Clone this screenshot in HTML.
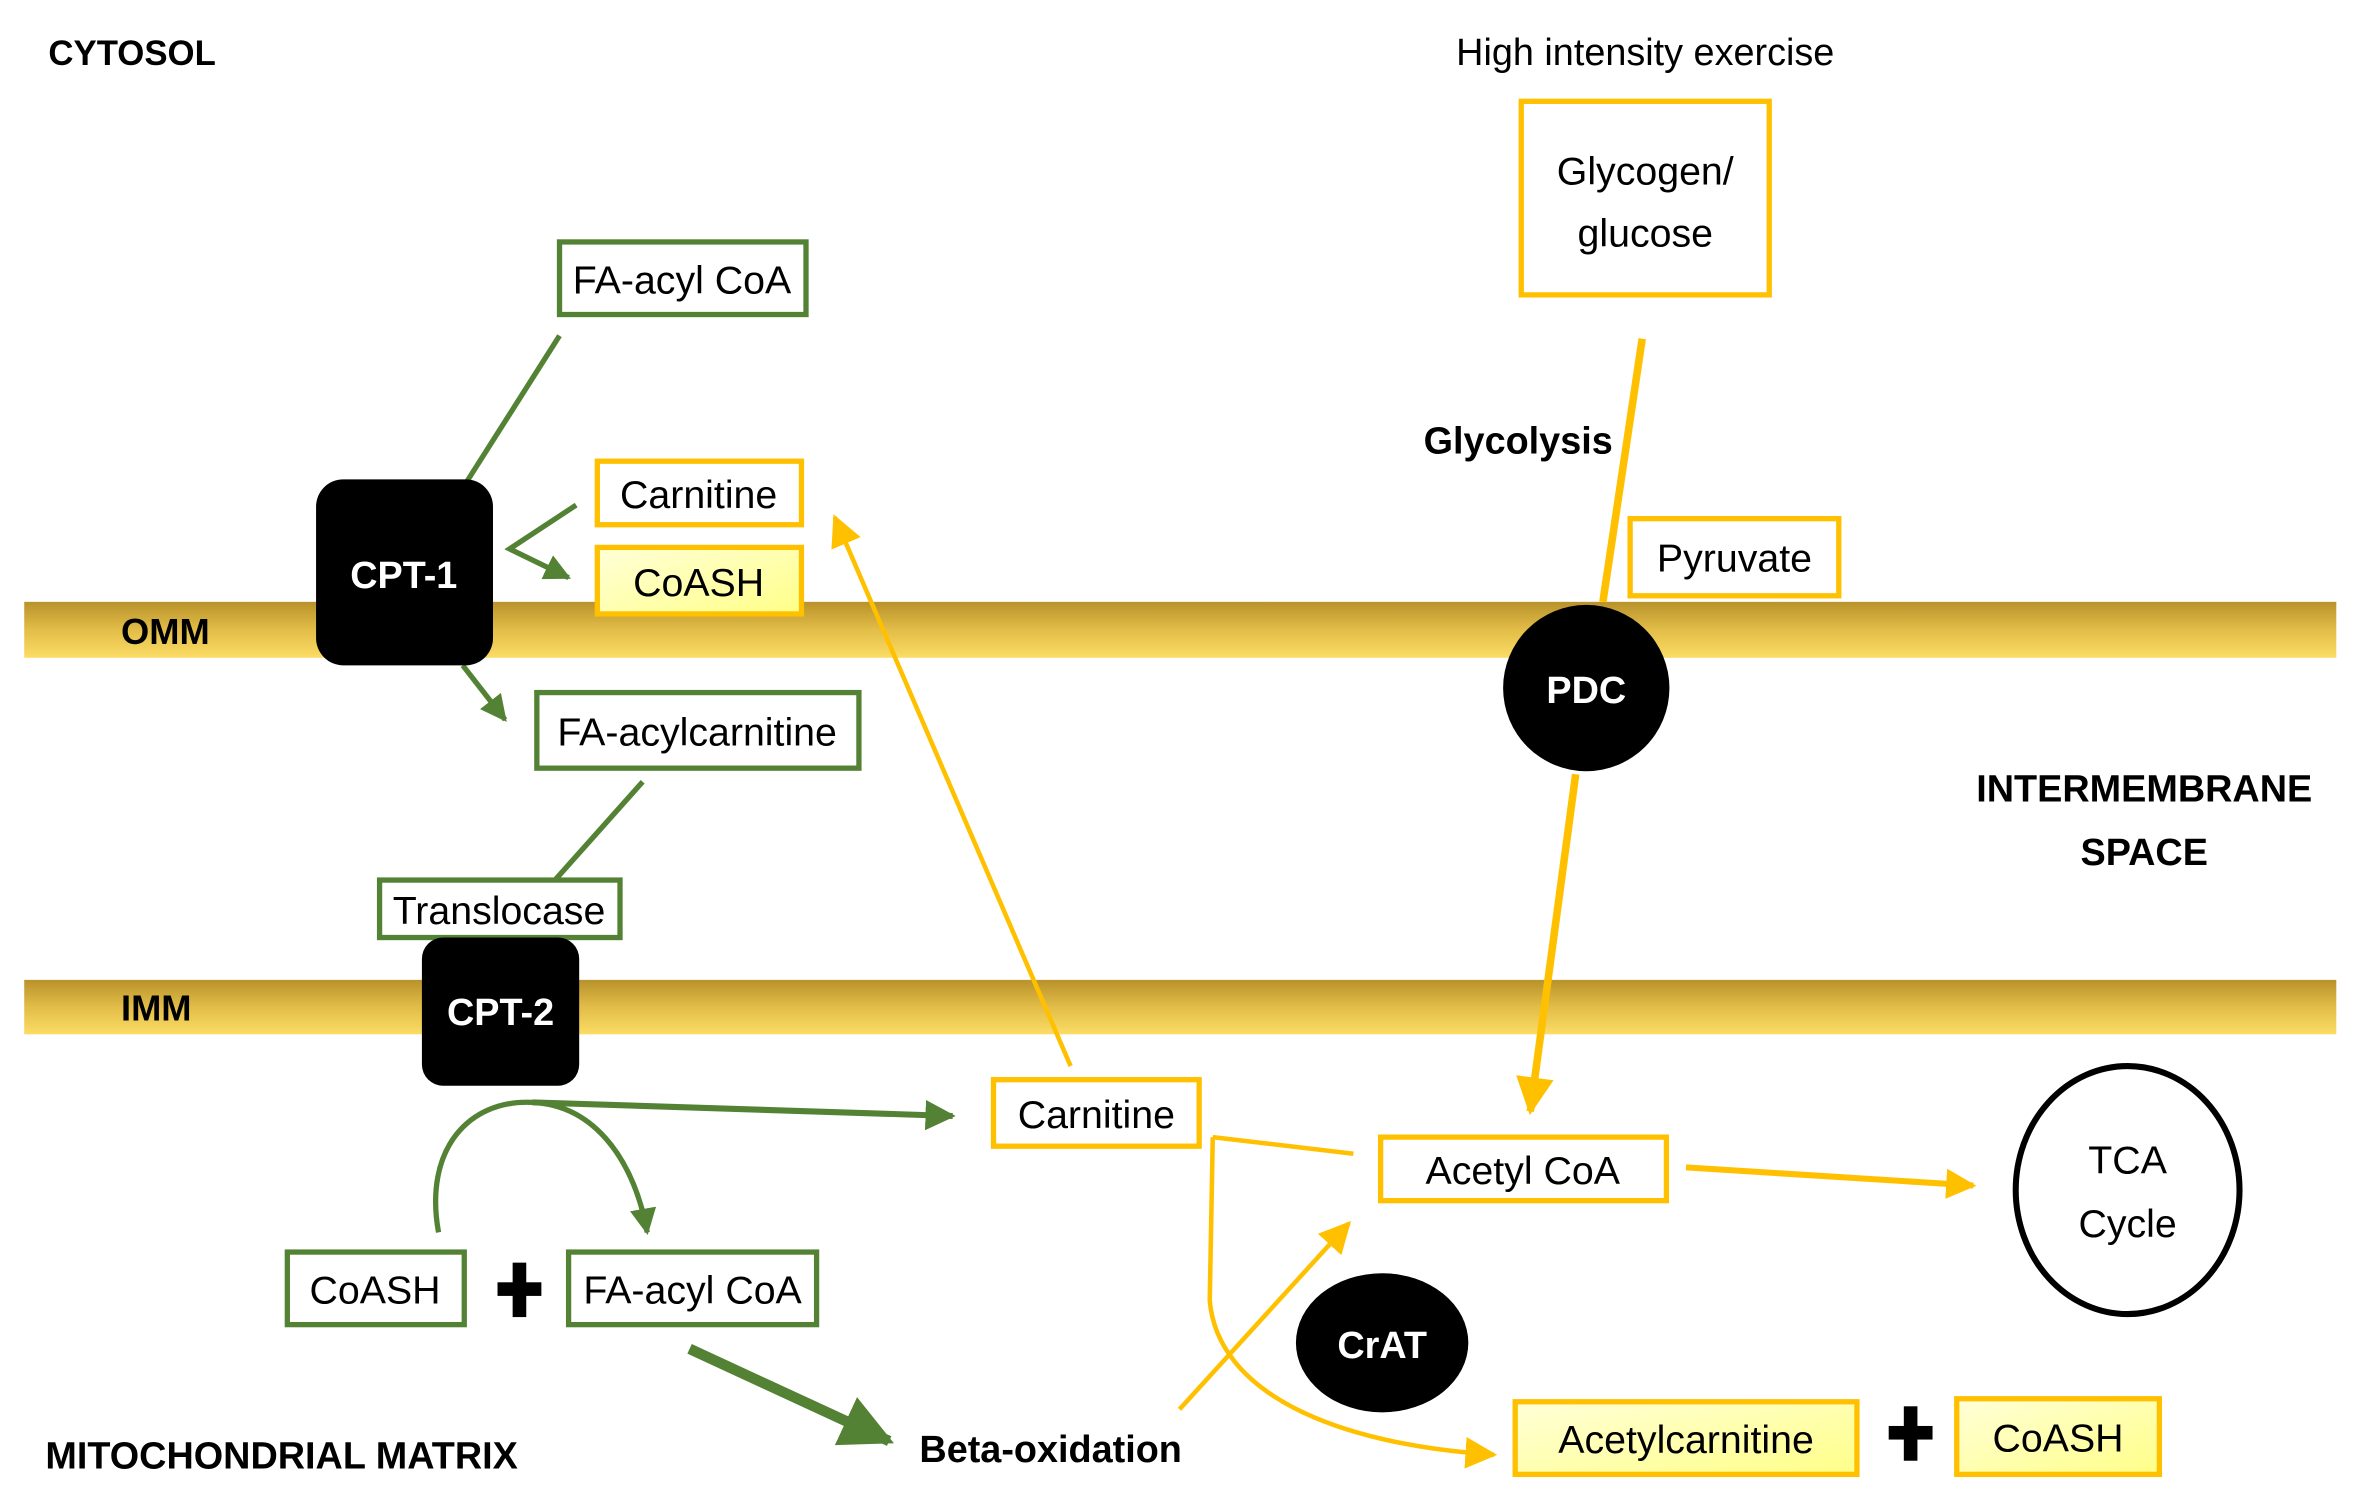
<!DOCTYPE html>
<html><head><meta charset="utf-8"><style>
html,body{margin:0;padding:0;background:#fff;}
svg{display:block;}
text{font-family:"Liberation Sans Narrow","Liberation Sans",sans-serif;}
</style></head><body>
<svg width="2359" height="1494" viewBox="0 0 1560 988" xmlns="http://www.w3.org/2000/svg">
<defs>
<linearGradient id="mem" x1="0" y1="0" x2="0" y2="1">
<stop offset="0" stop-color="#b8922a"/><stop offset="0.5" stop-color="#e2bd48"/><stop offset="1" stop-color="#fbdc64"/>
</linearGradient>
<linearGradient id="yel" x1="0" y1="0" x2="1" y2="1">
<stop offset="0" stop-color="#ffffd8"/><stop offset="1" stop-color="#ffff88"/>
</linearGradient>
<marker id="ag" viewBox="0 0 10 10" refX="9" refY="5" markerWidth="5" markerHeight="5" orient="auto" markerUnits="strokeWidth"><path d="M0,0 L10,5 L0,10 z" fill="#548235"/></marker>
<marker id="ao" viewBox="0 0 10 10" refX="9" refY="5" markerWidth="5" markerHeight="5" orient="auto" markerUnits="strokeWidth"><path d="M0,0 L10,5 L0,10 z" fill="#ffc000"/></marker>
<marker id="ao2" viewBox="0 0 10 10" refX="9" refY="5" markerWidth="7" markerHeight="7" orient="auto" markerUnits="strokeWidth"><path d="M0,0 L10,5 L0,10 z" fill="#ffc000"/></marker>
<marker id="ag2" viewBox="0 0 10 10" refX="9" refY="5" markerWidth="8" markerHeight="8" orient="auto" markerUnits="strokeWidth"><path d="M0,0 L10,5 L0,10 z" fill="#548235"/></marker>
</defs>

<!-- membranes -->
<rect x="16" y="398" width="1529" height="37" fill="url(#mem)"/>
<rect x="16" y="648" width="1529" height="36" fill="url(#mem)"/>
<text x="80" y="426" font-size="24" font-weight="bold">OMM</text>
<text x="80" y="675" font-size="24" font-weight="bold">IMM</text>

<text x="32" y="43" font-size="23" font-weight="bold">CYTOSOL</text>
<text x="1088" y="43" font-size="25" text-anchor="middle">High intensity exercise</text>
<text x="1418" y="530" font-size="25" font-weight="bold" text-anchor="middle">INTERMEMBRANE</text>
<text x="1418" y="572" font-size="25" font-weight="bold" text-anchor="middle">SPACE</text>
<text x="30" y="971" font-size="25" font-weight="bold">MITOCHONDRIAL MATRIX</text>
<text x="1004" y="300" font-size="25" font-weight="bold" text-anchor="middle">Glycolysis</text>
<text x="608" y="967" font-size="25" font-weight="bold">Beta-oxidation</text>

<!-- green lines -->
<g stroke="#548235" fill="none" stroke-width="3.5">
<line x1="370" y1="222" x2="309" y2="318"/>
<polyline points="381,334 337,363 376,382" marker-end="url(#ag)"/>
<line x1="306" y1="440" x2="334" y2="476" marker-end="url(#ag)"/>
<line x1="425" y1="517" x2="367" y2="582"/>
<path d="M290,815 C280,760 310,727 352,729 C395,731 420,770 428,815" marker-end="url(#ag)"/>
<line x1="352" y1="729" x2="630" y2="738" stroke-width="4" marker-end="url(#ag)"/>
<line x1="456" y1="892" x2="588" y2="953" stroke-width="7" marker-end="url(#ag)"/>
</g>

<!-- orange lines -->
<g stroke="#ffc000" fill="none" stroke-width="3">
<line x1="708" y1="705" x2="552" y2="342" marker-end="url(#ao2)"/>
<line x1="1086" y1="224" x2="1060" y2="398" stroke-width="5"/>
<line x1="1042" y1="512" x2="1012" y2="735" stroke-width="5" marker-end="url(#ao)"/>
<polyline points="895,763 802,752"/>
<path d="M802,752 L800,860 C805,920 880,955 988,962" marker-end="url(#ao2)"/>
<line x1="780" y1="932" x2="892" y2="809" marker-end="url(#ao2)"/>
<line x1="1115" y1="772" x2="1305" y2="784" stroke-width="4" marker-end="url(#ao)"/>
</g>

<!-- boxes -->
<g stroke-width="3.5" fill="#fff">
<rect x="370" y="160" width="163" height="48" stroke="#548235"/>
<rect x="395" y="305" width="135" height="42" stroke="#ffc000"/>
<rect x="395" y="362" width="135" height="44" stroke="#ffc000" fill="url(#yel)"/>
<rect x="355" y="458" width="213" height="50" stroke="#548235"/>
<rect x="251" y="582" width="159" height="38" stroke="#548235"/>
<rect x="1006" y="67" width="164" height="128" stroke="#ffc000"/>
<rect x="1078" y="343" width="138" height="51" stroke="#ffc000"/>
<rect x="657" y="714" width="136" height="44" stroke="#ffc000"/>
<rect x="913" y="752" width="189" height="42" stroke="#ffc000"/>
<rect x="190" y="828" width="117" height="48" stroke="#548235"/>
<rect x="376" y="828" width="164" height="48" stroke="#548235"/>
<rect x="1002" y="927" width="226" height="48" stroke="#ffc000" fill="url(#yel)"/>
<rect x="1294" y="925" width="134" height="50" stroke="#ffc000" fill="url(#yel)"/>
</g>

<g font-size="26" text-anchor="middle">
<text x="451" y="194">FA-acyl CoA</text>
<text x="462" y="336">Carnitine</text>
<text x="462" y="394">CoASH</text>
<text x="461" y="493">FA-acylcarnitine</text>
<text x="330" y="611">Translocase</text>
<text x="1088" y="122">Glycogen/</text>
<text x="1088" y="163">glucose</text>
<text x="1147" y="378">Pyruvate</text>
<text x="725" y="746">Carnitine</text>
<text x="1007" y="783">Acetyl CoA</text>
<text x="248" y="862">CoASH</text>
<text x="458" y="862">FA-acyl CoA</text>
<text x="1115" y="961">Acetylcarnitine</text>
<text x="1361" y="960">CoASH</text>
<text x="1407" y="776">TCA</text>
<text x="1407" y="818">Cycle</text>
</g>

<!-- plus signs -->
<g fill="#000">
<rect x="339" y="835" width="9" height="36"/><rect x="329" y="848" width="29" height="9"/>
<rect x="1259" y="930" width="9" height="36"/><rect x="1249" y="943" width="29" height="9"/>
</g>

<!-- enzymes -->
<rect x="209" y="317" width="117" height="123" rx="18" fill="#000"/>
<text x="267" y="389" font-size="25" font-weight="bold" fill="#fff" text-anchor="middle">CPT-1</text>
<rect x="279" y="620" width="104" height="98" rx="14" fill="#000"/>
<text x="331" y="678" font-size="25" font-weight="bold" fill="#fff" text-anchor="middle">CPT-2</text>
<circle cx="1049" cy="455" r="55" fill="#000"/>
<text x="1049" y="465" font-size="25" font-weight="bold" fill="#fff" text-anchor="middle">PDC</text>
<ellipse cx="914" cy="888" rx="57" ry="46" fill="#000"/>
<text x="914" y="898" font-size="25" font-weight="bold" fill="#fff" text-anchor="middle">CrAT</text>
<ellipse cx="1407" cy="787" rx="74" ry="82" fill="none" stroke="#000" stroke-width="4"/>
</svg>
</body></html>
